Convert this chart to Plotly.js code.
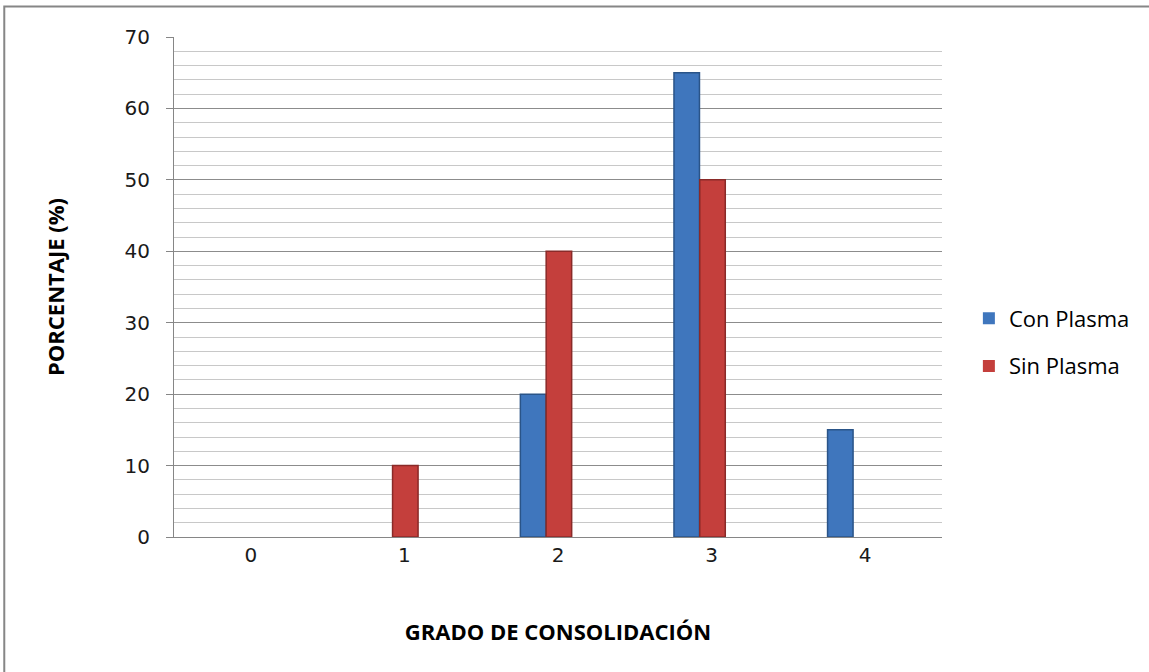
<!DOCTYPE html>
<html>
<head>
<meta charset="utf-8">
<script src="https://cdn.plot.ly/plotly-3.0.1.min.js"></script>
<style>
  html, body { margin: 0; padding: 0; background: #ffffff; }
  #chart { width: 1149px; height: 672px; }
</style>
</head>
<body>
<div id="chart"></div>
<script>
// Grado de consolidación: porcentaje de casos por grado, con y sin plasma
const grados = ['0', '1', '2', '3', '4'];
const conPlasma = [0, 0, 20, 65, 15];
const sinPlasma = [0, 10, 40, 50, 0];
const yTicks = [0, 10, 20, 30, 40, 50, 60, 70];

const fontTicks = 'DejaVu Sans, sans-serif';
const fontText = 'Open Sans, Noto Sans, sans-serif';

// empty categories get no outline, so no sliver is drawn at zero
const outline = vals => vals.map(v => (v === 0 ? 0 : 1.5));

const barWidth = 0.166;

const traces = [
  {
    type: 'bar', name: 'Con Plasma', x: grados, y: conPlasma,
    legendgroup: 'a', width: barWidth, offset: -0.245,
    marker: { color: '#3f76bd', line: { color: '#2a5488', width: outline(conPlasma) } }
  },
  {
    type: 'bar', name: 'Sin Plasma', x: grados, y: sinPlasma,
    legendgroup: 'b', width: barWidth, offset: -0.077,
    marker: { color: '#c43f3c', line: { color: '#8a2a28', width: outline(sinPlasma) } }
  }
];

const layout = {
  width: 1149, height: 672,
  margin: { l: 174, r: 207, t: 37, b: 135 },
  paper_bgcolor: '#ffffff', plot_bgcolor: '#ffffff',
  barmode: 'group',
  showlegend: true,
  legend: {
    x: 1.035, y: 0.389, xanchor: 'left', yanchor: 'middle',
    font: { family: fontText, size: 22, color: '#000000' },
    traceorder: 'grouped', tracegroupgap: 16,
    bgcolor: 'rgba(0,0,0,0)'
  },
  xaxis: {
    type: 'category',
    tickvals: grados, ticktext: grados,
    tickfont: { family: fontTicks, size: 20, color: '#1a1a1a' },
    showgrid: false, zeroline: false,
    showline: true, linecolor: '#868686', linewidth: 1,
    ticks: '',
    title: {
      text: '<b>GRADO DE CONSOLIDACIÓN</b>',
      font: { family: fontText, size: 22, color: '#000000' },
      standoff: 58
    }
  },
  yaxis: {
    range: [0, 70],
    tickvals: yTicks,
    tickfont: { family: fontTicks, size: 20, color: '#1a1a1a' },
    showgrid: true, gridcolor: '#8c8c8c', gridwidth: 1,
    minor: { dtick: 2, showgrid: true, gridcolor: '#c8c8c8', gridwidth: 1 },
    zeroline: false,
    showline: true, linecolor: '#868686', linewidth: 1,
    ticks: 'outside', ticklen: 7, tickcolor: '#868686',
    ticklabelstandoff: 12,
    title: {
      text: '<b>PORCENTAJE (%)</b>',
      font: { family: fontText, size: 22, color: '#000000' },
      standoff: 53
    }
  },
  shapes: [
    {
      type: 'rect', xref: 'paper', yref: 'paper',
      x0: -0.221, x1: 1.5, y0: -0.5, y1: 1.061,
      line: { color: '#868686', width: 2 }, fillcolor: 'rgba(0,0,0,0)',
      layer: 'below'
    }
  ]
};

Plotly.newPlot('chart', traces, layout, { displayModeBar: false, staticPlot: true });
</script>
</body>
</html>
